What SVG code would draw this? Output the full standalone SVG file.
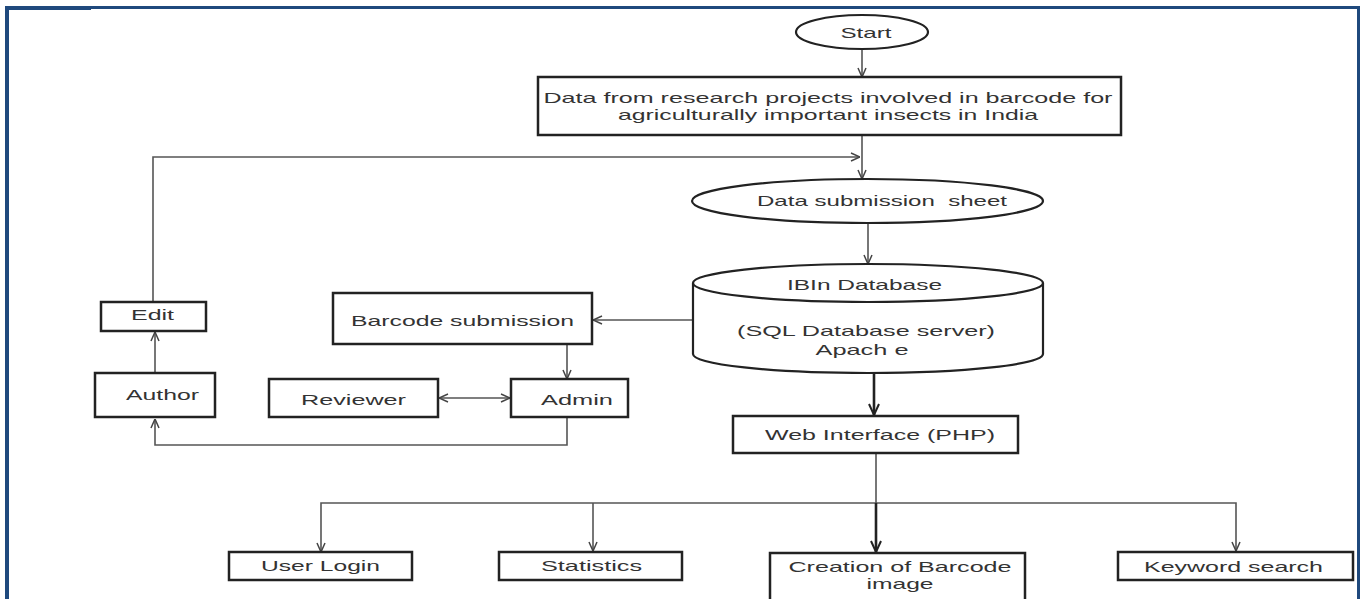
<svg xmlns="http://www.w3.org/2000/svg" width="1360" height="599" viewBox="0 0 1360 599">
<style>
  .box { fill: #fff; stroke: #222; stroke-width: 2.5; }
  .shape { fill: #fff; stroke: #222; stroke-width: 2.2; }
  .t { font-family: "Liberation Sans", Arial, sans-serif; font-size: 15px; fill: #333; text-anchor: middle; }
  .c { fill: none; stroke: #555; stroke-width: 1.6; }
  .thick { fill: none; stroke: #222; stroke-width: 2.6; }
  .frame { fill: #1F497D; }
</style>
<defs>
  <marker id="arr" viewBox="0 0 10 10" refX="10" refY="5" markerWidth="10" markerHeight="10" orient="auto-start-reverse" markerUnits="userSpaceOnUse">
    <path d="M1,1 L10,5 L1,9" fill="none" stroke="#444" stroke-width="1.5"/>
  </marker>
  <marker id="arrT" viewBox="0 0 12 12" refX="12" refY="6" markerWidth="12" markerHeight="12" orient="auto" markerUnits="userSpaceOnUse">
    <path d="M1,1 L12,6 L1,11" fill="none" stroke="#222" stroke-width="2"/>
  </marker>
</defs>
<rect width="1360" height="599" fill="#fff"/>
<g id="frame">
  <rect class="frame" x="5" y="6" width="4" height="593"/>
  <rect class="frame" x="5" y="6" width="86" height="4"/>
  <rect class="frame" x="91" y="6" width="1269" height="3"/>
  <rect class="frame" x="1357" y="6" width="3" height="593"/>
</g>
<g id="connectors">
  <path class="c" d="M862,50 V77" marker-end="url(#arr)"/>
  <path class="c" d="M862,135 V179" marker-end="url(#arr)"/>
  <path class="c" d="M153,302 V157 H860" marker-end="url(#arr)"/>
  <path class="c" d="M868,223 V264" marker-end="url(#arr)"/>
  <path class="c" d="M693,320 H593" marker-end="url(#arr)"/>
  <path class="c" d="M567,344 V379" marker-end="url(#arr)"/>
  <path class="c" d="M439,398 H510" marker-start="url(#arr)" marker-end="url(#arr)"/>
  <path class="c" d="M567,417 V445 H155 V419" marker-end="url(#arr)"/>
  <path class="c" d="M155,373 V332" marker-end="url(#arr)"/>
  <path class="thick" d="M874,373 V415" marker-end="url(#arrT)"/>
  <path class="c" d="M876,453 V503"/>
  <path class="c" d="M321,552 V503 H1236 V551" marker-start="url(#arr)" marker-end="url(#arr)"/>
  <path class="c" d="M593,503 V551" marker-end="url(#arr)"/>
  <path class="thick" d="M876,503 V552" marker-end="url(#arrT)"/>
</g>
<g id="start">
  <ellipse class="shape" cx="862" cy="32" rx="66" ry="17"/>
  <text class="t" x="866" y="38" textLength="51" lengthAdjust="spacingAndGlyphs">Start</text>
</g>
<g id="data-projects">
  <rect class="box" x="538" y="77" width="583" height="58"/>
  <text class="t" x="828" y="103" textLength="569" lengthAdjust="spacingAndGlyphs">Data from research projects involved in barcode for</text>
  <text class="t" x="828" y="120" textLength="420" lengthAdjust="spacingAndGlyphs">agriculturally important insects in India</text>
</g>
<g id="data-sheet">
  <ellipse class="shape" cx="867.5" cy="201" rx="175.5" ry="22"/>
  <text class="t" x="882" y="206" textLength="250" lengthAdjust="spacingAndGlyphs" xml:space="preserve">Data submission  sheet</text>
</g>
<g id="database">
  <path class="shape" d="M693,283 A175,19 0 0 1 1043,283 V354 A175,19 0 0 1 693,354 Z"/>
  <path class="shape" fill="none" d="M693,283 A175,19 0 0 0 1043,283"/>
  <text class="t" x="864.5" y="290" textLength="155" lengthAdjust="spacingAndGlyphs">IBIn Database</text>
  <text class="t" x="866" y="336" textLength="258" lengthAdjust="spacingAndGlyphs">(SQL Database server)</text>
  <text class="t" x="862" y="355" textLength="93" lengthAdjust="spacingAndGlyphs">Apach e</text>
</g>
<g id="web-interface">
  <rect class="box" x="733" y="416" width="285" height="37"/>
  <text class="t" x="880" y="440" textLength="230" lengthAdjust="spacingAndGlyphs">Web Interface (PHP)</text>
</g>
<g id="barcode-submission">
  <rect class="box" x="333" y="293" width="259" height="51"/>
  <text class="t" x="462.5" y="326" textLength="223" lengthAdjust="spacingAndGlyphs">Barcode submission</text>
</g>
<g id="edit">
  <rect class="box" x="101" y="302" width="105" height="29"/>
  <text class="t" x="152.5" y="320" textLength="43" lengthAdjust="spacingAndGlyphs">Edit</text>
</g>
<g id="author">
  <rect class="box" x="95" y="373" width="120" height="44"/>
  <text class="t" x="162.5" y="400" textLength="73" lengthAdjust="spacingAndGlyphs">Author</text>
</g>
<g id="reviewer">
  <rect class="box" x="269" y="379" width="169" height="38"/>
  <text class="t" x="353.5" y="405" textLength="105" lengthAdjust="spacingAndGlyphs">Reviewer</text>
</g>
<g id="admin">
  <rect class="box" x="511" y="379" width="117" height="38"/>
  <text class="t" x="577" y="405" textLength="72" lengthAdjust="spacingAndGlyphs">Admin</text>
</g>
<g id="user-login">
  <rect class="box" x="229" y="552" width="183" height="28"/>
  <text class="t" x="320.5" y="571" textLength="119" lengthAdjust="spacingAndGlyphs">User Login</text>
</g>
<g id="statistics">
  <rect class="box" x="499" y="552" width="183" height="28"/>
  <text class="t" x="591.5" y="571" textLength="101" lengthAdjust="spacingAndGlyphs">Statistics</text>
</g>
<g id="creation">
  <rect class="box" x="770" y="553" width="255" height="48"/>
  <text class="t" x="900" y="572" textLength="223" lengthAdjust="spacingAndGlyphs">Creation of Barcode</text>
  <text class="t" x="900" y="589" textLength="67" lengthAdjust="spacingAndGlyphs">image</text>
</g>
<g id="keyword-search">
  <rect class="box" x="1118" y="552" width="235" height="28"/>
  <text class="t" x="1233.5" y="572" textLength="179" lengthAdjust="spacingAndGlyphs">Keyword search</text>
</g>
</svg>
